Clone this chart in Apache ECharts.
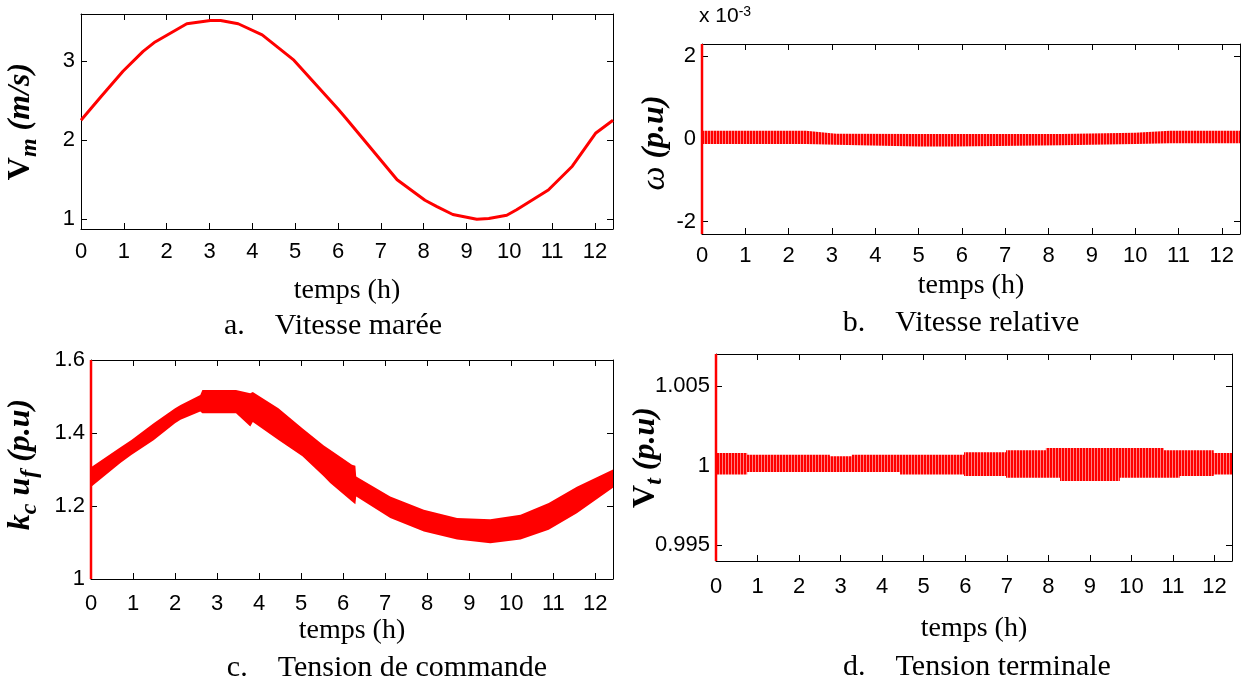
<!DOCTYPE html>
<html><head><meta charset="utf-8">
<script src="https://cdn.jsdelivr.net/npm/echarts@6/dist/echarts.min.js"></script>
<style>html,body{margin:0;padding:0;background:#fff}#c{width:1244px;height:684px}</style>
</head><body><div id="c"></div>
<script>
// ---------------- data ----------------
const xTicks = [0,1,2,3,4,5,6,7,8,9,10,11,12];
const tMax = 12.42;

// (a) tidal current speed Vm (m/s)
const aTime  = [0,0.47,0.98,1.45,1.73,2.47,3.02,3.26,3.67,4.23,4.97,5.99,6.18,7.38,8.03,8.31,8.68,9.24,9.52,9.94,10.17,10.91,11.47,12.02,12.42];
const aSpeed = [2.25,2.55,2.87,3.12,3.24,3.47,3.51,3.51,3.47,3.33,3.01,2.40,2.28,1.50,1.24,1.16,1.06,1.00,1.01,1.05,1.12,1.37,1.67,2.09,2.25];
const aYTicks = [1,2,3];

// (b) relative speed omega (x 1e-3 p.u): envelope of the oscillation band
const bTime  = [0,2.4,3.1,5.0,5.8,8.3,10.0,10.8,12.42];
const bUpper = [0.20,0.20,0.13,0.12,0.12,0.12,0.15,0.20,0.20];
const bLower = [-0.12,-0.12,-0.14,-0.18,-0.18,-0.15,-0.12,-0.10,-0.10];
const bSpikeT = [0,0];
const bSpikeV = [-2.3,2.3];
const bYTicks = [-2,0,2];

// (c) control voltage kc*uf (p.u): envelope of the band
const cTime  = [0,0.7,0.96,1.49,2.0,2.13,2.6,2.65,3.45,3.79,3.85,4.46,5.03,5.54,5.69,6.21,6.29,6.31,7.12,7.92,8.71,9.5,10.22,10.89,11.56,12.42];
const cUpper = [1.306,1.361,1.381,1.427,1.468,1.477,1.504,1.518,1.518,1.509,1.512,1.468,1.413,1.366,1.354,1.313,1.310,1.281,1.226,1.190,1.167,1.164,1.176,1.208,1.253,1.300];
const cLower = [1.252,1.318,1.340,1.380,1.427,1.436,1.459,1.454,1.454,1.418,1.430,1.381,1.336,1.281,1.263,1.212,1.205,1.226,1.167,1.130,1.108,1.098,1.108,1.135,1.180,1.250];
const cSpikeT = [0,0];
const cSpikeV = [1.0,1.6];
const cYTicks = [1,1.2,1.4,1.6];

// (d) terminal voltage Vt (p.u): band segments
const dStart = [0,0.75,2.74,3.27,4.43,5.97,6.98,7.94,8.28,9.72,10.78,11.16,11.98];
const dEnd   = [0.75,2.74,3.27,4.43,5.97,6.98,7.94,8.28,9.72,10.78,11.16,11.98,12.42];
const dUpper = [1.00079,1.00068,1.00058,1.00068,1.00068,1.00083,1.00095,1.00110,1.00110,1.00110,1.00095,1.00095,1.00079];
const dLower = [0.99944,0.99959,0.99959,0.99959,0.99944,0.99934,0.99923,0.99923,0.99902,0.99923,0.99923,0.99934,0.99944];
const dSpikeT = [0,0];
const dSpikeV = [0.994,1.007];
const dYTicks = [0.995,1,1.005];

// ---------------- styling ----------------
const sans  = "'Liberation Sans',Arial,sans-serif";
const serif = "'Liberation Serif','Times New Roman',serif";
const black = '#000';
const red = '#ff0000';

function stripes() {
  const cv = document.createElement('canvas'); cv.width = 3; cv.height = 4;
  const g = cv.getContext('2d');
  g.fillStyle = red; g.fillRect(0,0,3,4);
  g.fillStyle = '#ff8080'; g.fillRect(2,0,1,4);
  return {image: cv, repeat: 'repeat'};
}
const stripeFill = stripes();

const yRich = {
  b:   {fontFamily: serif, fontWeight: 'bold', fontSize: 32, lineHeight: 42, color: black},
  bi:  {fontFamily: serif, fontWeight: 'bold', fontStyle: 'italic', fontSize: 32, lineHeight: 42, color: black},
  i:   {fontFamily: serif, fontStyle: 'italic', fontSize: 34, lineHeight: 42, color: black},
  sub: {fontFamily: serif, fontWeight: 'bold', fontStyle: 'italic', fontSize: 24, lineHeight: 18, verticalAlign: 'bottom', color: black}
};

function xAxes(gi, nameGap, margin) {
  return [{
    gridIndex: gi, type: 'value', min: 0, max: tMax, position: 'bottom',
    name: 'temps (h)', nameLocation: 'middle', nameGap: nameGap, nameMoveOverlap: false,
    nameTextStyle: {fontFamily: serif, fontSize: 28, color: black},
    axisLine: {show: true, onZero: false, lineStyle: {color: black, width: 1}},
    axisTick: {show: true, inside: true, length: 6, customValues: xTicks, lineStyle: {color: black}},
    axisLabel: {show: true, customValues: xTicks, margin: margin, fontFamily: sans, fontSize: 22, color: black},
    splitLine: {show: false}
  }, {
    gridIndex: gi, type: 'value', min: 0, max: tMax, position: 'top',
    axisLine: {show: true, onZero: false, lineStyle: {color: black, width: 1}},
    axisTick: {show: true, inside: true, length: 6, customValues: xTicks, lineStyle: {color: black}},
    axisLabel: {show: false}, splitLine: {show: false}
  }];
}
function yAxes(gi, min, max, ticks, name, nameGap, shift) {
  return [{
    gridIndex: gi, type: 'value', min: min, max: max, position: 'left',
    name: name, nameLocation: 'middle', nameGap: nameGap, nameRotate: 90, nameMoveOverlap: false,
    nameTextStyle: {rich: yRich, padding: shift >= 0 ? [0, 0, 0, shift] : [0, -shift, 0, 0]},
    axisLine: {show: true, onZero: false, lineStyle: {color: black, width: 1}},
    axisTick: {show: true, inside: true, length: 6, customValues: ticks, lineStyle: {color: black}},
    axisLabel: {show: true, customValues: ticks, margin: 6, fontFamily: sans, fontSize: 22, color: black},
    splitLine: {show: false}
  }, {
    gridIndex: gi, type: 'value', min: min, max: max, position: 'right',
    axisLine: {show: true, onZero: false, lineStyle: {color: black, width: 1}},
    axisTick: {show: true, inside: true, length: 6, customValues: ticks, lineStyle: {color: black}},
    axisLabel: {show: false}, splitLine: {show: false}
  }];
}
function bandSeries(gi, times, upper, lower, fill) {
  return {
    type: 'custom', xAxisIndex: 2*gi, yAxisIndex: 2*gi, clip: true, z: 2,
    data: times.map((t, i) => [t, upper[i], lower[i]]),
    encode: {x: 0, y: [1, 2]},
    renderItem: function (params, api) {
      if (params.dataIndex !== 0) return null;
      const pts = [];
      for (let i = 0; i < times.length; i++) pts.push(api.coord([times[i], upper[i]]));
      for (let i = times.length - 1; i >= 0; i--) pts.push(api.coord([times[i], lower[i]]));
      return {type: 'polygon', shape: {points: pts}, style: {fill: fill, stroke: null}};
    }
  };
}
function stepBandSeries(gi, starts, ends, upper, lower, fill) {
  return {
    type: 'custom', xAxisIndex: 2*gi, yAxisIndex: 2*gi, clip: true, z: 2,
    data: starts.map((s, i) => [s, ends[i], upper[i], lower[i]]),
    encode: {x: [0, 1], y: [2, 3]},
    renderItem: function (params, api) {
      if (params.dataIndex !== 0) return null;
      const top = [], bot = [];
      for (let i = 0; i < starts.length; i++) {
        top.push(api.coord([starts[i], upper[i]]), api.coord([ends[i], upper[i]]));
        bot.push(api.coord([starts[i], lower[i]]), api.coord([ends[i], lower[i]]));
      }
      const pts = top.concat(bot.reverse());
      return {type: 'polygon', shape: {points: pts}, style: {fill: fill, stroke: null}};
    }
  };
}
function spikeSeries(gi, ts, vs) {
  return {
    type: 'line', xAxisIndex: 2*gi, yAxisIndex: 2*gi, clip: false, z: 4,
    data: ts.map((t, i) => [t, vs[i]]), showSymbol: false, symbol: 'none',
    lineStyle: {color: red, width: 2.5}
  };
}

const capStyle = {fontFamily: serif, fontSize: 30, fontWeight: 'normal', color: black};
const chart = echarts.init(document.getElementById('c'), null, {renderer: 'canvas'});
chart.setOption({
  animation: false,
  backgroundColor: '#fff',
  title: [
    {text: 'a.    Vitesse marée', left: 328, top: 306, textAlign: 'center', textStyle: capStyle},
    {text: 'b.    Vitesse relative', left: 956, top: 303, textAlign: 'center', textStyle: capStyle},
    {text: 'c.    Tension de commande', left: 382, top: 648, textAlign: 'center', textStyle: capStyle},
    {text: 'd.    Tension terminale', left: 972, top: 647, textAlign: 'center', textStyle: capStyle},
    {text: '{m|x 10}{s|-3}', left: 699, top: 5, padding: 0, textStyle: {fontWeight: 'normal', rich: {
      m: {fontFamily: sans, fontWeight: 'normal', fontSize: 21, lineHeight: 22, verticalAlign: 'bottom', color: black},
      s: {fontFamily: sans, fontWeight: 'normal', fontSize: 14, lineHeight: 14, verticalAlign: 'top', color: black}
    }}}
  ],
  grid: [
    {left: 81, top: 14, width: 532, height: 215, containLabel: false, outerBoundsMode: 'none'},
    {left: 702, top: 44, width: 538, height: 190, containLabel: false, outerBoundsMode: 'none'},
    {left: 91, top: 360, width: 522, height: 219, containLabel: false, outerBoundsMode: 'none'},
    {left: 716, top: 354, width: 516, height: 207, containLabel: false, outerBoundsMode: 'none'}
  ],
  xAxis: [].concat(xAxes(0, 48, 12), xAxes(1, 38, 11), xAxes(2, 38, 14), xAxes(3, 54, 15)),
  yAxis: [].concat(
    yAxes(0, 0.877, 3.593, aYTicks, '{b|V}{sub|m}{bi| (m/s)}', 39, 0),
    yAxes(1, -2.3, 2.3, bYTicks, '{i|ω}{bi| (p.u)}', 26, -8),
    yAxes(2, 1, 1.6, cYTicks, '{bi|k}{sub|c}{bi| u}{sub|f}{bi| (p.u)}', 49, 10),
    yAxes(3, 0.994, 1.007, dYTicks, '{b|V}{sub|t}{bi| (p.u)}', 49, 0)
  ),
  series: [
    {type: 'line', xAxisIndex: 0, yAxisIndex: 0, data: aTime.map((t, i) => [t, aSpeed[i]]),
     showSymbol: false, symbol: 'none', lineStyle: {color: red, width: 3}, z: 3},
    bandSeries(1, bTime, bUpper, bLower, stripeFill),
    spikeSeries(1, bSpikeT, bSpikeV),
    bandSeries(2, cTime, cUpper, cLower, red),
    spikeSeries(2, cSpikeT, cSpikeV),
    stepBandSeries(3, dStart, dEnd, dUpper, dLower, stripeFill),
    spikeSeries(3, dSpikeT, dSpikeV)
  ]
});
</script>
</body></html>
